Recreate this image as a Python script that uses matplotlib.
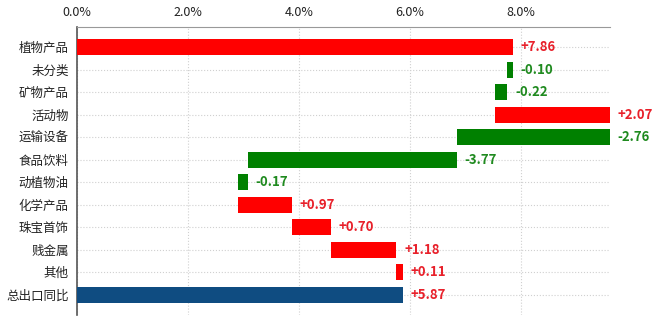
import matplotlib
matplotlib.use('Agg')
import matplotlib.pyplot as plt
import numpy as np

plt.rcParams['font.family'] = ['Noto Sans CJK SC', 'DejaVu Sans']

categories = ['植物产品', '未分类', '矿物产品', '活动物', '运输设备', '食品饮料',
              '动植物油', '化学产品', '珠宝首饰', '贱金属', '其他', '总出口同比']
changes = [7.86, -0.10, -0.22, 2.07, -2.76, -3.77, -0.17, 0.97, 0.70, 1.18, 0.11]
total = 5.87
xticks = [0, 2, 4, 6, 8]

# waterfall: start / end of each step
ends = np.cumsum(changes)
starts = ends - np.array(changes)
lefts = list(np.minimum(starts, ends)) + [0]
widths = list(np.abs(changes)) + [total]
values = changes + [total]
colors = ['#FF0000' if v > 0 else '#008000' for v in changes] + ['#0F4C81']
txtcol = ['#E8202A' if v > 0 else '#1F8A1F' for v in values]
rights = [l + w for l, w in zip(lefts, widths)]

fig = plt.figure(figsize=(6.6, 3.23), dpi=100)
ax = fig.add_axes([0.1167, 0.025, 0.8076, 0.8916])

y = np.arange(len(categories))
ax.barh(y, widths, left=lefts, height=0.7, color=colors, zorder=3)

for i in range(len(categories)):
    ax.text(rights[i] + 0.14, y[i], '{:+.2f}'.format(values[i]), va='center', ha='left',
            color=txtcol[i], fontsize=9.5, fontweight='bold', zorder=4, clip_on=False)

ax.set_yticks(y)
ax.set_yticklabels(categories, fontsize=9, color='#222222')
ax.set_ylim(11.9, -0.9)
ax.set_xlim(0, 9.61)
ax.set_xticks(xticks)
ax.set_xticklabels(['{:.1f}%'.format(t) for t in xticks], fontsize=9, color='#222222')
ax.xaxis.tick_top()
ax.tick_params(axis='both', length=0, pad=6)

ax.grid(True, color='#d0d0d0', linestyle=':', linewidth=0.8, zorder=0)
for s in ['right', 'bottom']:
    ax.spines[s].set_visible(False)
ax.spines['left'].set_color('#555555')
ax.spines['left'].set_linewidth(1.2)
ax.spines['top'].set_color('#999999')
ax.spines['top'].set_linewidth(0.8)

fig.savefig('out.png', dpi=100)
